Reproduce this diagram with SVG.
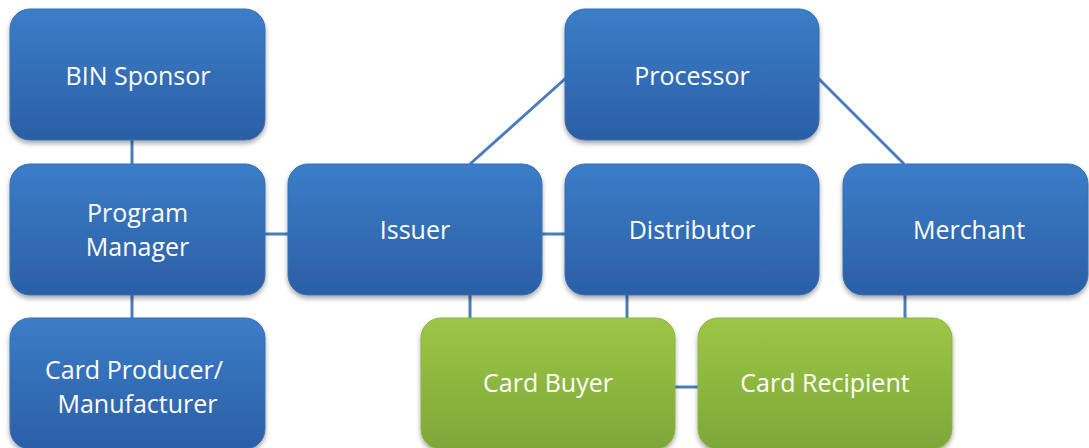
<svg xmlns="http://www.w3.org/2000/svg" width="1089" height="448" viewBox="0 0 1089 448">
  <defs>
    <linearGradient id="gBlue" x1="0" y1="0" x2="0" y2="1">
      <stop offset="0" stop-color="#3b7dc8"/>
      <stop offset="1" stop-color="#2b5fa6"/>
    </linearGradient>
    <linearGradient id="gGreen" x1="0" y1="0" x2="0" y2="1">
      <stop offset="0" stop-color="#9dc646"/>
      <stop offset="1" stop-color="#7ea73a"/>
    </linearGradient>
    <filter id="shadow" x="-10%" y="-10%" width="120%" height="130%">
      <feGaussianBlur in="SourceAlpha" stdDeviation="2.5"/>
      <feOffset dx="0" dy="2.5" result="b"/>
      <feComponentTransfer><feFuncA type="linear" slope="0.35"/></feComponentTransfer>
      <feMerge><feMergeNode/><feMergeNode in="SourceGraphic"/></feMerge>
    </filter>
  </defs>
  <style>
    .blue { fill: url(#gBlue); stroke: #3a6fb0; stroke-width: 1; filter: url(#shadow); }
    .green { fill: url(#gGreen); stroke: #8cb440; stroke-width: 1; filter: url(#shadow); }
    .lbl { font-family: "Open Sans", "Liberation Sans", sans-serif; font-size: 25px; fill: #ffffff; text-anchor: middle; }
    .link { stroke: #4a7dbb; stroke-width: 3; fill: none; }
  </style>
  <rect width="1089" height="448" fill="#ffffff"/>

  <!-- connectors -->
  <g id="connectors">
    <line class="link" x1="132" y1="140" x2="132" y2="164"/>
    <line class="link" x1="132" y1="295" x2="132" y2="318"/>
    <line class="link" x1="265" y1="234" x2="288" y2="234"/>
    <line class="link" x1="542" y1="234" x2="565" y2="234"/>
    <line class="link" x1="470" y1="164" x2="566" y2="78"/>
    <line class="link" x1="818" y1="78" x2="904" y2="164"/>
    <line class="link" x1="470" y1="295" x2="470" y2="318"/>
    <line class="link" x1="627" y1="295" x2="627" y2="318"/>
    <line class="link" x1="905" y1="295" x2="905" y2="318"/>
    <line class="link" x1="675" y1="387" x2="698" y2="387"/>
  </g>

  <g id="bin-sponsor">
    <rect class="blue" x="10" y="9" width="255" height="131" rx="20"/>
    <text class="lbl" x="138" y="85">BIN Sponsor</text>
  </g>
  <g id="program-manager">
    <rect class="blue" x="10" y="164" width="255" height="131" rx="20"/>
    <text class="lbl" x="137.5" y="222">Program</text>
    <text class="lbl" x="137.5" y="256">Manager</text>
  </g>
  <g id="card-producer">
    <rect class="blue" x="10" y="318" width="255" height="131" rx="20"/>
    <text class="lbl" x="134" y="379">Card Producer/</text>
    <text class="lbl" x="137.5" y="413">Manufacturer</text>
  </g>
  <g id="processor">
    <rect class="blue" x="565" y="9" width="254" height="131" rx="20"/>
    <text class="lbl" x="692" y="85">Processor</text>
  </g>
  <g id="issuer">
    <rect class="blue" x="288" y="164" width="254" height="131" rx="20"/>
    <text class="lbl" x="415" y="239">Issuer</text>
  </g>
  <g id="distributor">
    <rect class="blue" x="565" y="164" width="254" height="131" rx="20"/>
    <text class="lbl" x="692" y="239">Distributor</text>
  </g>
  <g id="merchant">
    <rect class="blue" x="843" y="164" width="245" height="131" rx="20"/>
    <text class="lbl" x="969" y="239">Merchant</text>
  </g>
  <g id="card-buyer">
    <rect class="green" x="421" y="318" width="254" height="131" rx="20"/>
    <text class="lbl" x="548" y="392">Card Buyer</text>
  </g>
  <g id="card-recipient">
    <rect class="green" x="698" y="318" width="254" height="131" rx="20"/>
    <text class="lbl" x="825" y="392">Card Recipient</text>
  </g>
</svg>
